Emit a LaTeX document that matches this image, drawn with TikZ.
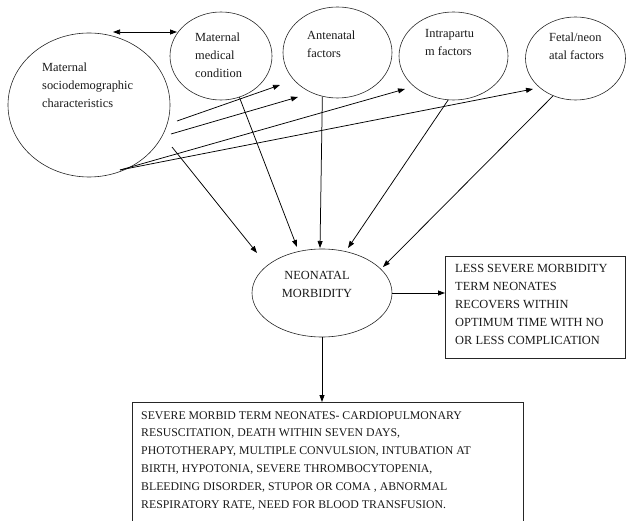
\documentclass[tikz,border=0pt]{standalone}
\usepackage{fontspec}
\setmainfont{Liberation Serif}
\usetikzlibrary{arrows.meta,shapes.geometric}
\begin{document}
\begin{tikzpicture}[x=1pt,y=-1pt,
  ell/.style={draw=black!85, ellipse, inner sep=0pt, line width=0.6pt},
  txt/.style={anchor=north west, inner sep=0pt, align=left, text=black!90, font=\fontsize{12.4}{18}\selectfont},
  arr/.style={-{Triangle[length=7pt,width=5pt]}, line width=0.75pt},
  boxst/.style={rectangle, inner sep=0pt, line width=0.6pt}]
\useasboundingbox (0,0) rectangle (626,521);
\clip (0,0) rectangle (626,521);

% ellipses
\node[ell, minimum width=162pt, minimum height=144pt] (soc) at (89,105) {};
\node[ell, minimum width=102pt, minimum height=88pt] (med) at (221,56) {};
\node[ell, minimum width=109pt, minimum height=91pt] (ante) at (337.5,52.5) {};
\node[ell, minimum width=109pt, minimum height=88pt] (intra) at (453.5,56) {};
\node[ell, minimum width=100pt, minimum height=83pt] (fetal) at (575.5,58.5) {};
\node[ell, minimum width=140pt, minimum height=88pt] (neo) at (322,293) {};

% texts in ellipses
\node[txt] (socT) at (42,62.5) {Maternal\\sociodemographic\\characteristics};
\node[txt] (medT) at (195,33) {Maternal\\medical\\condition};
\node[txt] (anteT) at (307,31) {Antenatal\\factors};
\node[txt] (intraT) at (425,29) {Intrapartu\\m factors};
\node[txt] (fetalT) at (549,33) {Fetal/neon\\atal factors};
\node[txt, anchor=center, align=center] (neoT) at (317,284) {NEONATAL\\MORBIDITY};

% boxes
\node[boxst, draw=black!85, anchor=north west, minimum width=180pt, minimum height=102pt] (lsbox) at (445,256) {};
\node[txt] (lsT) at (455,264) {LESS SEVERE MORBIDITY\\TERM NEONATES\\RECOVERS WITHIN\\OPTIMUM TIME WITH NO\\OR LESS COMPLICATION};
\node[boxst, anchor=north west, minimum width=391pt, minimum height=130pt] (sevbox) at (132,402) {};
\draw[line width=0.6pt, black!85] (sevbox.south west) -- (sevbox.north west) -- (sevbox.north east) -- (sevbox.south east);
\node[txt, font=\fontsize{11.8}{17.9}\selectfont] (sevT) at (141,411) {SEVERE MORBID TERM NEONATES- CARDIOPULMONARY\\RESUSCITATION, DEATH WITHIN SEVEN DAYS,\\PHOTOTHERAPY, MULTIPLE CONVULSION, INTUBATION AT\\BIRTH, HYPOTONIA, SEVERE THROMBOCYTOPENIA,\\BLEEDING DISORDER, STUPOR OR COMA , ABNORMAL\\RESPIRATORY RATE, NEED FOR BLOOD TRANSFUSION.};

% free ends
\coordinate (d1) at (113,32);
\coordinate (d2) at (177,32);
\coordinate (s1) at (177,121);
\coordinate (e1) at (280,85);
\coordinate (s2) at (171,134);
\coordinate (e2) at (298,97);
\coordinate (s3) at (120,170);
\coordinate (e3) at (405,89);
\coordinate (e4) at (533,89);
\coordinate (s5) at (172,147);
\coordinate (t1) at (257,253);
\coordinate (t2) at (297,247);
\coordinate (t3) at (320,248);
\coordinate (t4) at (348,248);
\coordinate (t5) at (383,267);

% connectors
\draw[{Triangle[length=7pt,width=5pt]}-{Triangle[length=7pt,width=5pt]}, line width=0.75pt] (d1) -- (d2);
\draw[arr] (s1) -- (e1);
\draw[arr] (s2) -- (e2);
\draw[arr] (s3) -- (e3);
\draw[arr] (s3) -- (e4);
\draw[arr] (s5) -- (t1);
\draw[arr] (med.-66) -- (t2);
\draw[arr] (ante.-109) -- (t3);
\draw[arr] (intra.-97.6) -- (t4);
\draw[arr] (fetal.-121.6) -- (t5);
\draw[arr] (neo.east) -- (neo.east -| lsbox.west);
\draw[arr] (neo.south) -- (neo.south |- sevbox.north);
\end{tikzpicture}
\end{document}
